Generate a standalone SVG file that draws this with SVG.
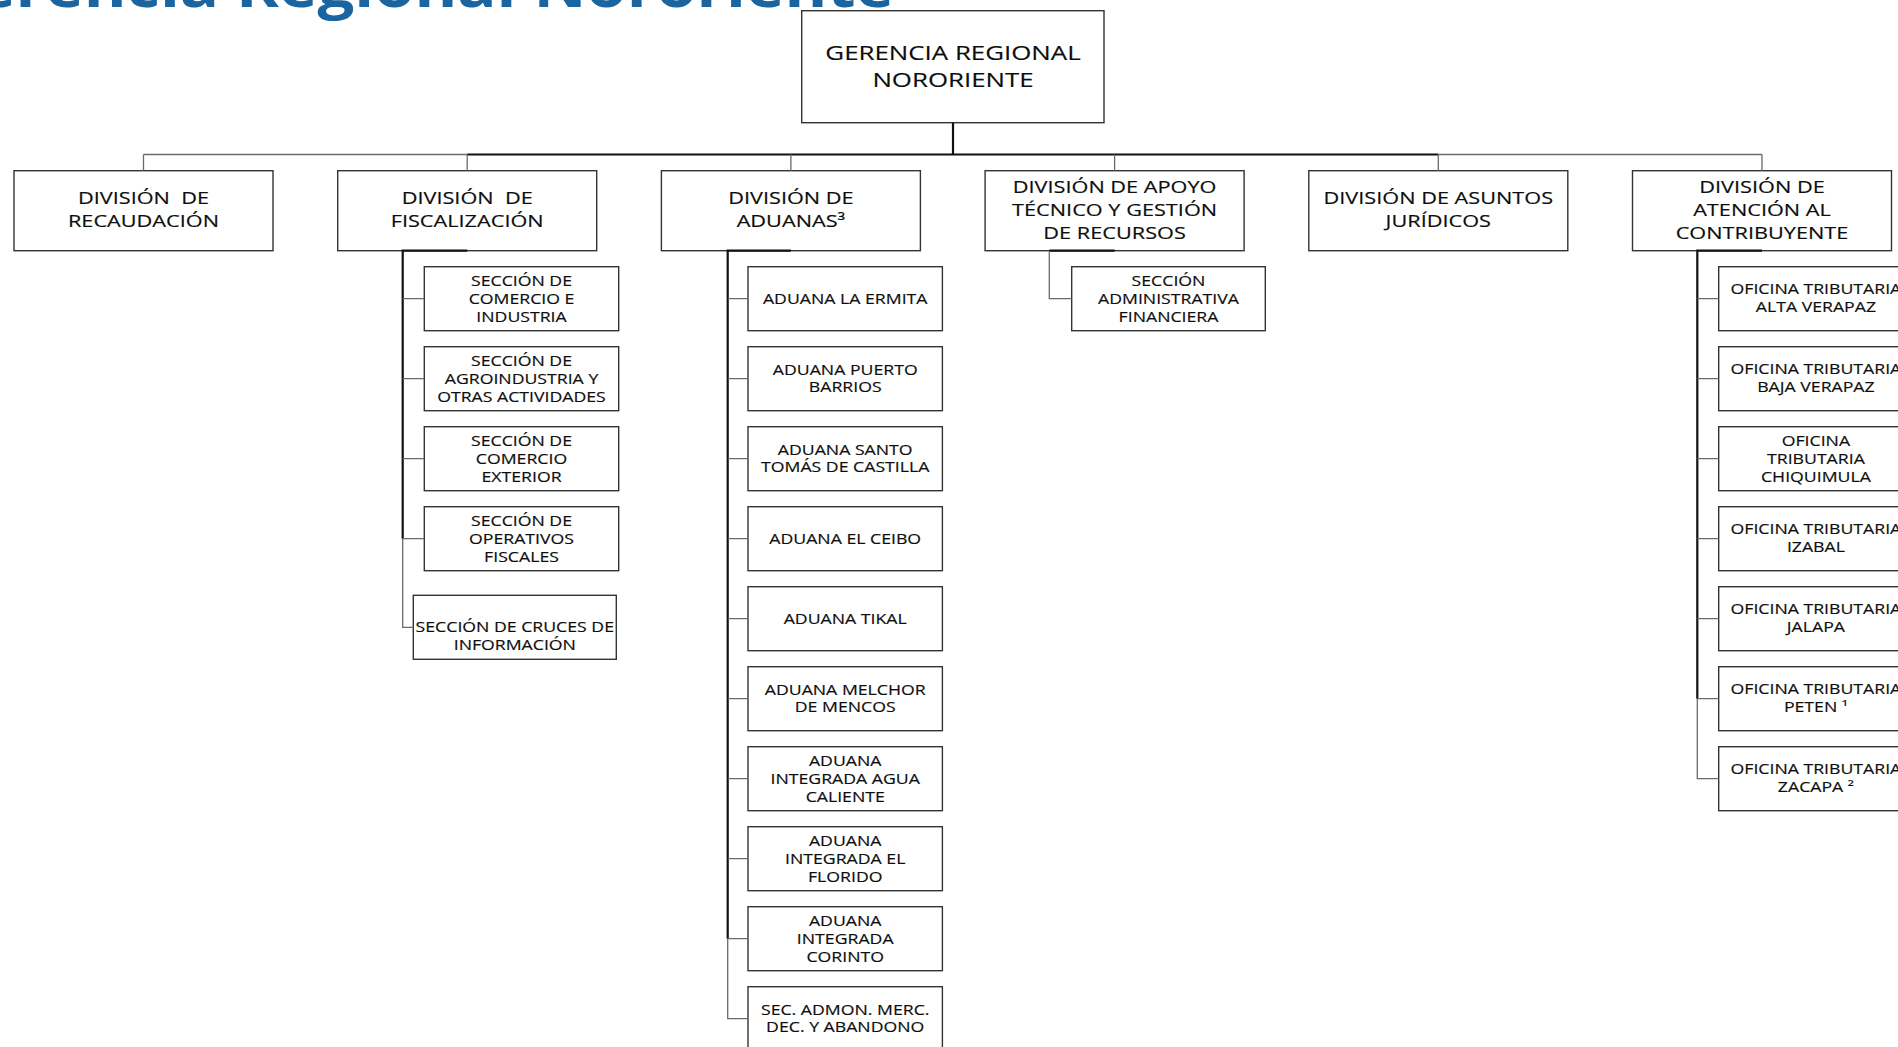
<svg xmlns="http://www.w3.org/2000/svg" width="1898" height="1047" viewBox="0 0 1898 1047">
<style>
.box{fill:#ffffff;stroke:#333333;stroke-width:1.4}
.t{font-family:"Open Sans","Liberation Sans",sans-serif;fill:#0d0d0d;text-anchor:middle;stroke:#0d0d0d;stroke-width:0.15}
.rt{font-size:19.9px}
.dt{font-size:16.7px}
.st{font-size:13.6px}
.thick{fill:none;stroke:#111111;stroke-width:2.2}
.thin{fill:none;stroke:#6a6a6a;stroke-width:1.3}
.title{font-family:"Open Sans","Liberation Sans",sans-serif;font-weight:700;font-size:58px;fill:#1a64a0}
</style>
<rect x="0" y="0" width="1898" height="1047" fill="#ffffff"/>
<text class="title" x="-70" y="7" textLength="964" lengthAdjust="spacingAndGlyphs">Gerencia Regional Nororiente</text>

<g id="root">
<rect class="box" x="801.7" y="10.7" width="302.3" height="112"/>
<text class="t rt" transform="matrix(1.3 0 0 1 953 0)"><tspan x="0" y="60">GERENCIA REGIONAL</tspan><tspan x="0" y="86.7">NORORIENTE</tspan></text>
</g>

<g id="div-recaudacion">
<rect class="box" x="14" y="170.7" width="259" height="80"/>
<text class="t dt" xml:space="preserve" transform="matrix(1.3 0 0 1 143.5 0)"><tspan x="0" y="204.5">DIVISIÓN  DE</tspan><tspan x="0" y="227.5">RECAUDACIÓN</tspan></text>
</g>
<g id="div-fiscalizacion">
<rect class="box" x="337.7" y="170.7" width="259" height="80"/>
<text class="t dt" xml:space="preserve" transform="matrix(1.3 0 0 1 467.2 0)"><tspan x="0" y="204.5">DIVISIÓN  DE</tspan><tspan x="0" y="227.5">FISCALIZACIÓN</tspan></text>
</g>
<g id="div-aduanas">
<rect class="box" x="661.4" y="170.7" width="259" height="80"/>
<text class="t dt" transform="matrix(1.3 0 0 1 790.9 0)"><tspan x="0" y="204.5">DIVISIÓN DE</tspan><tspan x="0" y="227.5">ADUANAS³</tspan></text>
</g>
<g id="div-apoyo">
<rect class="box" x="985.1" y="170.7" width="259" height="80"/>
<text class="t dt" transform="matrix(1.3 0 0 1 1114.6 0)"><tspan x="0" y="193.3">DIVISIÓN DE APOYO</tspan><tspan x="0" y="216">TÉCNICO Y GESTIÓN</tspan><tspan x="0" y="238.7">DE RECURSOS</tspan></text>
</g>
<g id="div-juridicos">
<rect class="box" x="1308.8" y="170.7" width="259" height="80"/>
<text class="t dt" transform="matrix(1.3 0 0 1 1438.3 0)"><tspan x="0" y="204.5">DIVISIÓN DE ASUNTOS</tspan><tspan x="0" y="227.5">JURÍDICOS</tspan></text>
</g>
<g id="div-atencion">
<rect class="box" x="1632.5" y="170.7" width="259" height="80"/>
<text class="t dt" transform="matrix(1.3 0 0 1 1762 0)"><tspan x="0" y="193.3">DIVISIÓN DE</tspan><tspan x="0" y="216">ATENCIÓN AL</tspan><tspan x="0" y="238.7">CONTRIBUYENTE</tspan></text>
</g>

<g id="sec-comercio-industria">
<rect class="box" x="424.3" y="266.7" width="194.4" height="64"/>
<text class="t st" transform="matrix(1.3 0 0 1 521.5 0)"><tspan x="0" y="285.7">SECCIÓN DE</tspan><tspan x="0" y="303.7">COMERCIO E</tspan><tspan x="0" y="321.7">INDUSTRIA</tspan></text>
</g>
<g id="sec-agroindustria">
<rect class="box" x="424.3" y="346.7" width="194.4" height="64"/>
<text class="t st" transform="matrix(1.3 0 0 1 521.5 0)"><tspan x="0" y="365.7">SECCIÓN DE</tspan><tspan x="0" y="383.7">AGROINDUSTRIA Y</tspan><tspan x="0" y="401.7">OTRAS ACTIVIDADES</tspan></text>
</g>
<g id="sec-comercio-exterior">
<rect class="box" x="424.3" y="426.7" width="194.4" height="64"/>
<text class="t st" transform="matrix(1.3 0 0 1 521.5 0)"><tspan x="0" y="445.7">SECCIÓN DE</tspan><tspan x="0" y="463.7">COMERCIO</tspan><tspan x="0" y="481.7">EXTERIOR</tspan></text>
</g>
<g id="sec-operativos">
<rect class="box" x="424.3" y="506.7" width="194.4" height="64"/>
<text class="t st" transform="matrix(1.3 0 0 1 521.5 0)"><tspan x="0" y="525.7">SECCIÓN DE</tspan><tspan x="0" y="543.7">OPERATIVOS</tspan><tspan x="0" y="561.7">FISCALES</tspan></text>
</g>
<g id="sec-cruces">
<rect class="box" x="413.3" y="595.3" width="203" height="64"/>
<text class="t st" transform="matrix(1.3 0 0 1 514.8 0)"><tspan x="0" y="632.3">SECCIÓN DE CRUCES DE</tspan><tspan x="0" y="650">INFORMACIÓN</tspan></text>
</g>

<g id="ad-ermita">
<rect class="box" x="748" y="266.7" width="194.4" height="64"/>
<text class="t st" transform="matrix(1.3 0 0 1 845.2 0)"><tspan x="0" y="303.6">ADUANA LA ERMITA</tspan></text>
</g>
<g id="ad-puerto-barrios">
<rect class="box" x="748" y="346.7" width="194.4" height="64"/>
<text class="t st" transform="matrix(1.3 0 0 1 845.2 0)"><tspan x="0" y="374.8">ADUANA PUERTO</tspan><tspan x="0" y="392.5">BARRIOS</tspan></text>
</g>
<g id="ad-santo-tomas">
<rect class="box" x="748" y="426.7" width="194.4" height="64"/>
<text class="t st" transform="matrix(1.3 0 0 1 845.2 0)"><tspan x="0" y="454.8">ADUANA SANTO</tspan><tspan x="0" y="472.5">TOMÁS DE CASTILLA</tspan></text>
</g>
<g id="ad-ceibo">
<rect class="box" x="748" y="506.7" width="194.4" height="64"/>
<text class="t st" transform="matrix(1.3 0 0 1 845.2 0)"><tspan x="0" y="543.6">ADUANA EL CEIBO</tspan></text>
</g>
<g id="ad-tikal">
<rect class="box" x="748" y="586.7" width="194.4" height="64"/>
<text class="t st" transform="matrix(1.3 0 0 1 845.2 0)"><tspan x="0" y="623.6">ADUANA TIKAL</tspan></text>
</g>
<g id="ad-melchor">
<rect class="box" x="748" y="666.7" width="194.4" height="64"/>
<text class="t st" transform="matrix(1.3 0 0 1 845.2 0)"><tspan x="0" y="694.8">ADUANA MELCHOR</tspan><tspan x="0" y="712.5">DE MENCOS</tspan></text>
</g>
<g id="ad-agua-caliente">
<rect class="box" x="748" y="746.7" width="194.4" height="64"/>
<text class="t st" transform="matrix(1.3 0 0 1 845.2 0)"><tspan x="0" y="765.7">ADUANA</tspan><tspan x="0" y="783.7">INTEGRADA AGUA</tspan><tspan x="0" y="801.7">CALIENTE</tspan></text>
</g>
<g id="ad-florido">
<rect class="box" x="748" y="826.7" width="194.4" height="64"/>
<text class="t st" transform="matrix(1.3 0 0 1 845.2 0)"><tspan x="0" y="845.7">ADUANA</tspan><tspan x="0" y="863.7">INTEGRADA EL</tspan><tspan x="0" y="881.7">FLORIDO</tspan></text>
</g>
<g id="ad-corinto">
<rect class="box" x="748" y="906.7" width="194.4" height="64"/>
<text class="t st" transform="matrix(1.3 0 0 1 845.2 0)"><tspan x="0" y="925.7">ADUANA</tspan><tspan x="0" y="943.7">INTEGRADA</tspan><tspan x="0" y="961.7">CORINTO</tspan></text>
</g>
<g id="sec-admon-merc">
<rect class="box" x="748" y="986.7" width="194.4" height="64"/>
<text class="t st" transform="matrix(1.3 0 0 1 845.2 0)"><tspan x="0" y="1014.8">SEC. ADMON. MERC.</tspan><tspan x="0" y="1032.5">DEC. Y ABANDONO</tspan></text>
</g>

<g id="sec-admin-financiera">
<rect class="box" x="1071.7" y="266.7" width="193.6" height="64"/>
<text class="t st" transform="matrix(1.3 0 0 1 1168.5 0)"><tspan x="0" y="285.7">SECCIÓN</tspan><tspan x="0" y="303.7">ADMINISTRATIVA</tspan><tspan x="0" y="321.7">FINANCIERA</tspan></text>
</g>

<g id="ot-alta-verapaz">
<rect class="box" x="1718.7" y="266.7" width="194.4" height="64"/>
<text class="t st" transform="matrix(1.3 0 0 1 1815.9 0)"><tspan x="0" y="294.5">OFICINA TRIBUTARIA</tspan><tspan x="0" y="312">ALTA VERAPAZ</tspan></text>
</g>
<g id="ot-baja-verapaz">
<rect class="box" x="1718.7" y="346.7" width="194.4" height="64"/>
<text class="t st" transform="matrix(1.3 0 0 1 1815.9 0)"><tspan x="0" y="374.5">OFICINA TRIBUTARIA</tspan><tspan x="0" y="392">BAJA VERAPAZ</tspan></text>
</g>
<g id="ot-chiquimula">
<rect class="box" x="1718.7" y="426.7" width="194.4" height="64"/>
<text class="t st" transform="matrix(1.3 0 0 1 1815.9 0)"><tspan x="0" y="445.7">OFICINA</tspan><tspan x="0" y="463.7">TRIBUTARIA</tspan><tspan x="0" y="481.7">CHIQUIMULA</tspan></text>
</g>
<g id="ot-izabal">
<rect class="box" x="1718.7" y="506.7" width="194.4" height="64"/>
<text class="t st" transform="matrix(1.3 0 0 1 1815.9 0)"><tspan x="0" y="534.5">OFICINA TRIBUTARIA</tspan><tspan x="0" y="552">IZABAL</tspan></text>
</g>
<g id="ot-jalapa">
<rect class="box" x="1718.7" y="586.7" width="194.4" height="64"/>
<text class="t st" transform="matrix(1.3 0 0 1 1815.9 0)"><tspan x="0" y="614.5">OFICINA TRIBUTARIA</tspan><tspan x="0" y="632">JALAPA</tspan></text>
</g>
<g id="ot-peten">
<rect class="box" x="1718.7" y="666.7" width="194.4" height="64"/>
<text class="t st" transform="matrix(1.3 0 0 1 1815.9 0)"><tspan x="0" y="694.5">OFICINA TRIBUTARIA</tspan><tspan x="0" y="712">PETEN ¹</tspan></text>
</g>
<g id="ot-zacapa">
<rect class="box" x="1718.7" y="746.7" width="194.4" height="64"/>
<text class="t st" transform="matrix(1.3 0 0 1 1815.9 0)"><tspan x="0" y="774.5">OFICINA TRIBUTARIA</tspan><tspan x="0" y="792">ZACAPA ²</tspan></text>
</g>

<g id="connectors">
<path class="thin" d="M143.5,154.5 H467.2 M1438.3,154.5 H1762"/>
<path class="thick" d="M467.2,154.5 H1438.3 M953,122.7 V154.5"/>
<path class="thin" d="M143.5,154.5 V170.7 M467.2,154.5 V170.7 M790.9,154.5 V170.7 M1114.6,154.5 V170.7 M1438.3,154.5 V170.7 M1762,154.5 V170.7"/>
<path class="thick" d="M467.2,250.7 H402.7 V538.7"/>
<path class="thin" d="M402.7,298.7 H424.3 M402.7,378.7 H424.3 M402.7,458.7 H424.3 M402.7,538.7 H424.3 M402.7,538.7 V627.3 H413.3"/>
<path class="thick" d="M790.9,250.7 H727.7 V938.7"/>
<path class="thin" d="M727.7,298.7 H748 M727.7,378.7 H748 M727.7,458.7 H748 M727.7,538.7 H748 M727.7,618.7 H748 M727.7,698.7 H748 M727.7,778.7 H748 M727.7,858.7 H748 M727.7,938.7 H748 M727.7,938.7 V1018.7 H748"/>
<path class="thick" d="M1114.6,250.7 H1049.3"/>
<path class="thin" d="M1049.3,250.7 V298.7 H1071.7"/>
<path class="thick" d="M1762,250.7 H1697.3 V698.7"/>
<path class="thin" d="M1697.3,298.7 H1718.7 M1697.3,378.7 H1718.7 M1697.3,458.7 H1718.7 M1697.3,538.7 H1718.7 M1697.3,618.7 H1718.7 M1697.3,698.7 H1718.7 M1697.3,698.7 V778.7 H1718.7"/>
</g>
</svg>
